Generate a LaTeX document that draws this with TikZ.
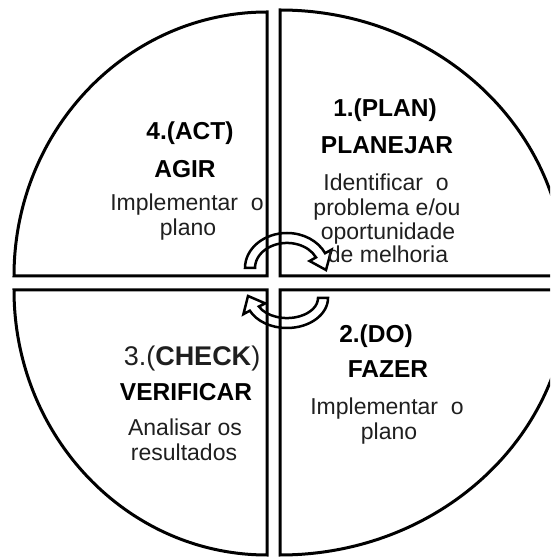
\documentclass[tikz,border=0pt]{standalone}
\usepackage{fontspec}
\setmainfont{Liberation Sans}
\begin{document}
\begin{tikzpicture}[x=1pt,y=1pt,
  quad/.style={draw=black, line width=3pt, line join=miter},
  cyc/.style={draw=black, line width=2.5pt, line join=miter},
  head/.style={font=\fontsize{24.5}{28}\selectfont\bfseries, anchor=base, text=black, inner sep=0pt},
  body/.style={font=\fontsize{23}{26}\selectfont, anchor=base, text=black!88, inner sep=0pt}]
\useasboundingbox (0,0) rectangle (550,557);
\clip (0,0) rectangle (550,557);

% four quarter segments of the cycle
\draw[quad] (267,281) -- (14,281) arc[start angle=180,end angle=90,x radius=253,y radius=264] -- cycle;
\draw[quad] (280,281) -- (280,547) arc[start angle=90,end angle=0,x radius=285,y radius=266] -- cycle;
\draw[quad] (267,267) -- (14,267) arc[start angle=180,end angle=270,x radius=253,y radius=265] -- cycle;
\draw[quad] (280,267) -- (280,2) arc[start angle=-90,end angle=0,x radius=288,y radius=265] -- cycle;

% curved arrows in the middle
\draw[cyc] (255,289) -- (245,289) arc[start angle=180,end angle=25,x radius=42,y radius=35]
  -- (331.5,307.3) -- (326,287) -- (309.6,296.0) -- (316.0,299.6)
  arc[start angle=25,end angle=180,x radius=32,y radius=25] -- cycle;
\draw[cyc] (318,259) -- (328,259) arc[start angle=0,end angle=-155,x radius=41,y radius=30]
  -- (243.4,242.8) -- (248,261) -- (265.3,253.6) -- (258.9,250.5)
  arc[start angle=-155,end angle=0,x radius=31,y radius=20] -- cycle;

% 4 - act
\node[head] (actn) at (190,417) {4.(ACT)};
\node[head] (actt) at (185,379) {AGIR};
\node[body] (actd1) at (187,346) {Implementar\ \ o};
\node[body] (actd2) at (188,321) {plano};

% 1 - plan
\node[head] (plann) at (385,440) {1.(PLAN)};
\node[head] (plant) at (387,403) {PLANEJAR};
\node[body] (pland1) at (386,366) {Identificar\ \ o};
\node[body] (pland2) at (387,341) {problema e/ou};
\node[body] (pland3) at (388,317) {oportunidade};
\node[body] (pland4) at (388,294) {de melhoria};

% 2 - do
\node[head] (don) at (376,214) {2.(DO)};
\node[head] (dot) at (388,179) {FAZER};
\node[body] (dod1) at (387,142) {Implementar\ \ o};
\node[body] (dod2) at (389,117) {plano};

% 3 - check
\node[body, font=\fontsize{27}{30}\selectfont] (chkn) at (192,191) {3.(\textbf{CHECK})};
\node[head] (chkt) at (186,156) {VERIFICAR};
\node[body] (chkd1) at (185,121) {Analisar os};
\node[body] (chkd2) at (184,96) {resultados};
\end{tikzpicture}
\end{document}
